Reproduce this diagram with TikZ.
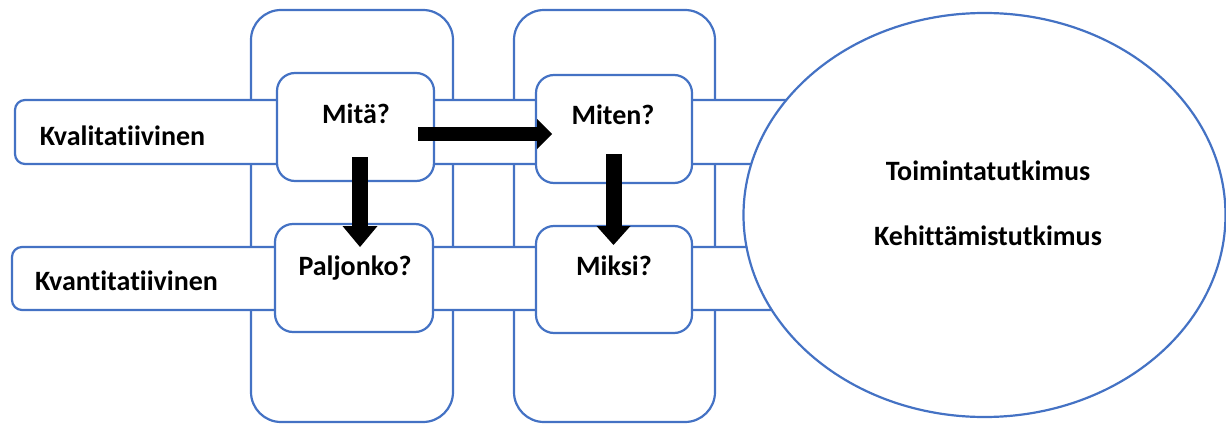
\documentclass[tikz,border=0pt]{standalone}
\usepackage{fontspec}
\setmainfont[Ligatures={NoCommon}]{Carlito}
\usetikzlibrary{arrows.meta,shapes.geometric}
\definecolor{boxblue}{HTML}{4472C4}
\tikzset{
  frame/.style={draw=boxblue, line width=2.2pt, fill=white, inner sep=0pt, outer sep=0pt},
  tallbox/.style={frame, rounded corners=30pt},
  band/.style={frame, rounded corners=10pt},
  qbox/.style={frame, rounded corners=18pt},
  oval/.style={frame, ellipse},
  txt/.style={anchor=base, inner sep=0pt, font=\fontsize{28}{33}\selectfont\bfseries},
  blockarrow/.style={line width=#1, black}
}
\begin{document}
\begin{tikzpicture}[x=1pt,y=-1pt]
\useasboundingbox (0,0) rectangle (1226,423);
% tall columns
\node[tallbox, minimum width=202pt, minimum height=412pt] (col1) at (352,216) {};
\node[tallbox, minimum width=201pt, minimum height=412pt] (col2) at (614.5,216) {};
% bands
\node[band, minimum width=785pt, minimum height=64pt] (band1) at (407.5,132) {};
\node[band, minimum width=788pt, minimum height=63pt] (band2) at (406,278.5) {};
% question boxes
\node[qbox, minimum width=157pt, minimum height=108pt] (mita) at (355.5,127) {};
\node[qbox, minimum width=158pt, minimum height=108pt] (paljonko) at (354,278) {};
\node[qbox, minimum width=156pt, minimum height=108pt] (miten) at (614,129) {};
\node[qbox, minimum width=156pt, minimum height=107pt] (miksi) at (614,279.5) {};
% ellipse
\node[oval, minimum width=482pt, minimum height=404pt] (tk) at (984.5,215) {};
% texts
\node[txt] (t1) at (122.5,145) {Kvalitatiivinen};
\node[txt] (t2) at (126.5,290) {Kvantitatiivinen};
\node[txt] (t3) at (356,123) {Mitä?};
\node[txt] (t4) at (355,275) {Paljonko?};
\node[txt] (t5) at (613,124) {Miten?};
\node[txt] (t6) at (614,275) {Miksi?};
\node[txt] (t7) at (988,180) {Toimintatutkimus};
\node[txt] (t8) at (988,245) {Kehittämistutkimus};
% arrows
\coordinate (a1s) at (418,134);
\coordinate (a1e) at (552,134);
\coordinate (a2s) at (360,157);
\coordinate (a2e) at (360,247);
\coordinate (a3s) at (613.5,154);
\coordinate (a3e) at (613.5,245);
\draw[blockarrow=14pt, -{Triangle[length=15pt,width=30pt,line width=0pt]}] (a1s) -- (a1e);
\draw[blockarrow=16pt, -{Triangle[length=21pt,width=35pt,line width=0pt]}] (a2s) -- (a2e);
\draw[blockarrow=16pt, -{Triangle[length=19pt,width=34pt,line width=0pt]}] (a3s) -- (a3e);
\end{tikzpicture}
\end{document}
